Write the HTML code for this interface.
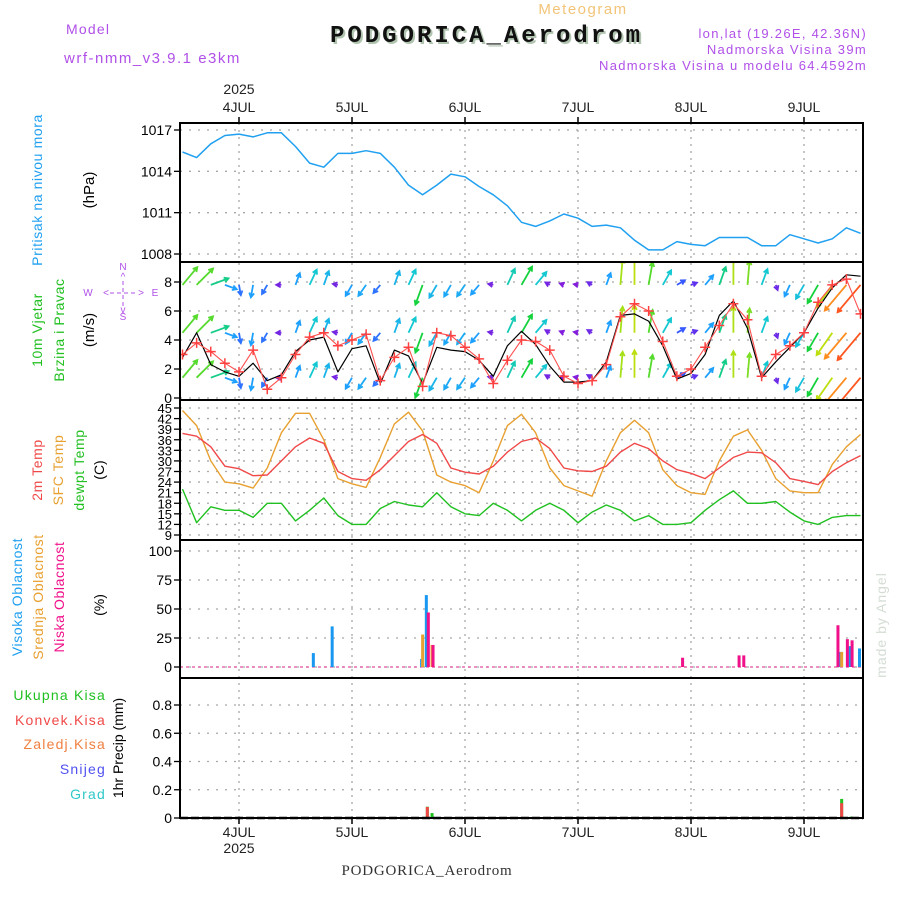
<!DOCTYPE html>
<html><head><meta charset="utf-8"><style>
html,body{margin:0;padding:0;background:#fff;}
svg{display:block;font-family:"Liberation Sans",sans-serif;}
</style></head><body>
<svg id="chart" width="900" height="900" viewBox="0 0 900 900" xmlns="http://www.w3.org/2000/svg">
<defs><clipPath id="windclip"><rect x="180" y="262" width="683" height="138"/></clipPath></defs>
<rect width="900" height="900" fill="#fff"/>
<text x="583" y="14" font-size="15" fill="#f2c478" text-anchor="middle" letter-spacing="1.5">Meteogram</text>
<text x="332" y="44" font-size="24" font-weight="bold" font-family="Liberation Mono, monospace" fill="#b0c4b0" textLength="310">PODGORICA_Aerodrom</text>
<text x="330" y="42" font-size="24" font-weight="bold" font-family="Liberation Mono, monospace" fill="#111" textLength="310">PODGORICA_Aerodrom</text>
<text x="66" y="34" font-size="14" fill="#b050e8" letter-spacing="1.2">Model</text>
<text x="64" y="63" font-size="15" fill="#b050e8" letter-spacing="1.5">wrf-nmm_v3.9.1 e3km</text>
<g font-size="13" fill="#b050e8" text-anchor="end" letter-spacing="1.3">
<text x="867" y="38">lon,lat (19.26E, 42.36N)</text>
<text x="867" y="54">Nadmorska Visina 39m</text>
<text x="867" y="70">Nadmorska Visina u modelu 64.4592m</text>
</g>
<text x="427" y="875" font-size="15" font-family="Liberation Serif, serif" fill="#333" text-anchor="middle" letter-spacing="0.8">PODGORICA_Aerodrom</text>
<text transform="translate(886,625) rotate(-90)" font-size="14" fill="#d4dcd4" text-anchor="middle" letter-spacing="1">made by Angel</text>

<text transform="translate(42,190) rotate(-90)" font-size="14" fill="#20a0f0" text-anchor="middle" letter-spacing="0.6">Pritisak na nivou mora</text>
<text transform="translate(94,190) rotate(-90)" font-size="15" fill="#000" text-anchor="middle">(hPa)</text>
<text transform="translate(42,330) rotate(-90)" font-size="14" fill="#20c020" text-anchor="middle" letter-spacing="0.6">10m Vjetar</text>
<text transform="translate(64,330) rotate(-90)" font-size="14" fill="#20c020" text-anchor="middle" letter-spacing="0.6">Brzina i Pravac</text>
<text transform="translate(94,330) rotate(-90)" font-size="15" fill="#000" text-anchor="middle">(m/s)</text>
<g fill="#b050e8" font-size="10" text-anchor="middle">
<text x="123" y="270">N</text><text x="123" y="280">^</text>
<text x="88" y="296">W</text><text x="155" y="296">E</text>
<text x="106" y="296">&lt;</text><text x="141" y="296">&gt;</text>
<text x="123" y="313">v</text><text x="123" y="320">S</text>
<line x1="110" y1="293" x2="137" y2="293" stroke="#b050e8" stroke-dasharray="4,3"/>
<line x1="123" y1="281" x2="123" y2="306" stroke="#b050e8" stroke-dasharray="4,3"/>
</g>
<text transform="translate(42,470) rotate(-90)" font-size="14" fill="#f04848" text-anchor="middle" letter-spacing="0.6">2m Temp</text>
<text transform="translate(63,470) rotate(-90)" font-size="14" fill="#e8a030" text-anchor="middle" letter-spacing="0.6">SFC Temp</text>
<text transform="translate(84,470) rotate(-90)" font-size="14" fill="#20c020" text-anchor="middle" letter-spacing="0.6">dewpt Temp</text>
<text transform="translate(104,470) rotate(-90)" font-size="14" fill="#000" text-anchor="middle">(C)</text>
<text transform="translate(22,597) rotate(-90)" font-size="14" fill="#20a0f0" text-anchor="middle" letter-spacing="0.6">Visoka Oblacnost</text>
<text transform="translate(43,597) rotate(-90)" font-size="14" fill="#e8a030" text-anchor="middle" letter-spacing="0.6">Srednja Oblacnost</text>
<text transform="translate(64,597) rotate(-90)" font-size="14" fill="#f0108a" text-anchor="middle" letter-spacing="0.6">Niska Oblacnost</text>
<text transform="translate(104,605) rotate(-90)" font-size="14" fill="#000" text-anchor="middle">(%)</text>
<g font-size="14" text-anchor="end" letter-spacing="1.2">
<text x="106" y="700" fill="#20c020">Ukupna  Kisa</text>
<text x="106" y="725" fill="#f04848">Konvek.Kisa</text>
<text x="106" y="749" fill="#f08040">Zaledj.Kisa</text>
<text x="106" y="774" fill="#5050f0">Snijeg</text>
<text x="106" y="799" fill="#30c8c8">Grad</text>
</g>
<text transform="translate(123,748) rotate(-90)" font-size="14" fill="#000" text-anchor="middle">1hr Precip (mm)</text>

<g id="grid"></g>
<g id="marks"></g>
<g id="frames"></g>
</svg>
<script>
const hours = [-12,-9,-6,-3,0,3,6,9,12,15,18,21,24,27,30,33,36,39,42,45,48,51,54,57,60,63,66,69,72,75,78,81,84,87,90,93,96,99,102,105,108,111,114,117,120,123,126,129,132];
const dayLabels = ["4JUL","5JUL","6JUL","7JUL","8JUL","9JUL"];
const pressure = [1015.4,1015.0,1016.0,1016.6,1016.7,1016.5,1016.8,1016.8,1015.8,1014.6,1014.3,1015.3,1015.3,1015.5,1015.3,1014.3,1013.0,1012.3,1013.0,1013.8,1013.6,1012.9,1012.3,1011.5,1010.3,1010.0,1010.4,1010.9,1010.6,1010.0,1010.1,1009.9,1009.0,1008.3,1008.3,1008.9,1008.7,1008.6,1009.2,1009.2,1009.2,1008.6,1008.6,1009.4,1009.1,1008.8,1009.1,1009.9,1009.5];
const windSpeed = [2.8,4.5,2.3,1.8,1.5,2.4,1.2,1.6,3.2,4.0,4.2,1.8,3.4,3.6,1.0,3.3,2.9,1.0,3.5,3.3,3.2,2.6,1.5,3.6,4.6,3.7,2.2,1.1,1.1,1.2,2.5,5.7,5.8,5.3,3.6,1.3,1.7,3.0,5.7,6.7,4.8,1.4,2.5,3.5,4.5,6.2,7.6,8.5,8.4];
const windGust = [3.0,3.8,3.2,2.4,1.8,3.3,0.6,1.4,3.0,4.2,4.5,3.6,4.0,4.4,1.2,2.8,3.5,0.8,4.5,4.3,3.5,2.7,1.0,2.6,4.0,3.9,3.3,1.5,1.0,1.2,2.3,5.6,6.5,6.0,3.9,1.5,2.0,3.5,5.0,6.5,5.4,1.5,3.0,3.6,4.5,6.6,7.8,8.2,5.8];
const windDir = [220,225,250,290,350,10,30,90,200,205,200,100,30,35,40,200,205,20,30,30,35,40,100,205,210,220,120,110,100,120,200,185,180,190,210,240,250,220,200,180,185,200,340,25,30,30,35,40,40];
const vecSpeed = [5.5,5.5,4.5,3,2.5,3,2.5,1.2,3,4,3.5,1.2,3,3.2,2.5,3.5,4,5,3.5,3.2,3.3,3,1.2,4.2,5,4,1.2,1.0,1.0,1.3,3,6.2,6.5,5.5,4,2.2,1.5,3,4.5,6.3,5.8,4,1.3,3,3.8,5,6.5,8,8.5];
const windRows = [7.8,4.5,1.4];
const temp2m = [37.8,37.0,34,28.5,27.8,25.8,26,30,34,36.5,35,27,25,24.5,27.5,31.5,35.5,37.5,35,28,26.8,26.3,28.5,32.5,35.5,36.5,33.5,28,27.2,27.0,28.5,32.5,35,33.5,30,27.5,26.5,25,28,31,32.5,32.3,29.5,25,24.2,23.3,27,29.5,31.5];
const tempSfc = [44.3,40,30,24,23.5,22.3,28,38,43.5,43.5,36,25,23.5,22.5,31,40.5,43.8,38.5,26,24,23,21,30,40,43.2,38,28,23,21.5,20,30,38,41.5,38,27.5,23,21,20.5,30,37,38.8,33,25,21.5,21,21,29,34,37.5];
const dewpt = [22,12.5,17,16,16,14,18,18,13,16,19.5,14.5,12,12,16.5,18.5,17.5,17,21,17,15,14.5,18,16,13,16,18,16,12.5,15.5,17.5,16,13,14.5,12,12,12.5,16,19,21.5,18,18,18.5,15.5,13,12,14,14.5,14.5];
const highCloudHours = [16,20,39,40,128,130,132];
const highCloud = [12,35,7,62,13,18,16];
const midCloudHours = [39,41,128];
const midCloud = [28,19,13];
const lowCloudHours = [40,41,94,106,107,127,129,130];
const lowCloud = [47,19,8,10,10,36,24,23];
const totPrecipHours = [40,41,128,130];
const totPrecip = [0.08,0.035,0.135,0.01];
const convPrecipHours = [40,128];
const convPrecip = [0.078,0.105];
const pTicks = [1008,1011,1014,1017];
const wTicks = [0,2,4,6,8];
const tTicks = [9,12,15,18,21,24,27,30,33,36,39,42,45];
const cTicks = [0,25,50,75,100];
const rTicks = [0,0.2,0.4,0.6,0.8];

const X0 = 180, X1 = 863;
const xs = h => 239 + h * 113 / 24;
const yP = p => 254 - (p - 1008) * 124 / 9;
const yW = v => 398 - v * 14.5;
const yT = t => 408 + (45 - t) * 127 / 36;
const yC = c => 667 - c * 1.16;
const yR = r => 818 - r * 141.25;
const panels = [[123,262],[262,400],[400,540],[540,678],[678,818]];

const NS = "http://www.w3.org/2000/svg";
function mk(tag, attrs, parent) {
  const e = document.createElementNS(NS, tag);
  for (const k in attrs) e.setAttribute(k, attrs[k]);
  parent.appendChild(e);
  return e;
}
const grid = document.getElementById('grid');
const marks = document.getElementById('marks');
const frames = document.getElementById('frames');

dayLabels.forEach((d, i) => {
  const x = xs(i * 24);
  const l = mk('line', {x1:x, y1:123, x2:x, y2:818, stroke:'#a8a8a8', 'stroke-width':1.3, 'stroke-dasharray':'2,5'}, grid);
  
  
  const t = mk('text', {x:x, y:112, 'font-size':14, 'text-anchor':'middle', fill:'#222'}, grid);
  t.textContent = d;
  
  
  const b = mk('text', {x:x, y:837, 'font-size':14, 'text-anchor':'middle', fill:'#222'}, grid);
  b.textContent = d;
  
  
  mk('line', {x1:x, y1:117, x2:x, y2:123, stroke:'#000', 'stroke-width':1.5}, grid);
  mk('line', {x1:x, y1:818, x2:x, y2:824, stroke:'#000', 'stroke-width':1.5}, grid);
});
[[94,'top-year-label'],[853,'bottom-year-label']].forEach(([y,n]) => {
  const t = mk('text', {x:xs(0), y:y, 'font-size':14, 'text-anchor':'middle', fill:'#222'}, grid);
  t.textContent = '2025';
  
  
});

function yAxis(ticks, fy, name, fs) {
  ticks.forEach(v => {
    const y = fy(v);
    const g = mk('line', {x1:X0, y1:y, x2:X1, y2:y, stroke:'#a8a8a8', 'stroke-width':1.3, 'stroke-dasharray':'2,7'}, grid);
    
    
    mk('line', {x1:X0-6, y1:y, x2:X0, y2:y, stroke:'#000', 'stroke-width':1.3}, grid);
    const t = mk('text', {x:X0-8, y:y+5, 'font-size':fs, 'text-anchor':'end', fill:'#000'}, grid);
    t.textContent = String(v);
    
    
  });
}
yAxis(pTicks, yP, 'pressure', 14);
yAxis(wTicks, yW, 'wind', 14);
yAxis(tTicks, yT, 'temp', 13);
yAxis(cTicks, yC, 'cloud', 14);
yAxis(rTicks, yR, 'precip', 14);

function line(xsArr, ys, color, name, w, parent) {
  const d = xsArr.map((h, i) => (i ? 'L' : 'M') + xs(h).toFixed(1) + ',' + ys[i].toFixed(1)).join('');
  const p = mk('path', {d:d, fill:'none', stroke:color, 'stroke-width':w || 1.3, 'stroke-linejoin':'round'}, parent || marks);
  
  
}
line(hours, pressure.map(yP), '#20a0f0', 'pressure-line', 1.5);

const windG = mk('g', {'clip-path':'url(#windclip)'}, marks);
function spdColor(s) {
  const stops = [[1,[130,30,220]],[2,[60,70,255]],[3,[30,160,255]],[4,[20,200,210]],[5,[20,210,60]],[6,[150,225,30]],[7,[230,220,0]],[8,[255,140,30]],[9,[255,30,30]]];
  if (s <= stops[0][0]) return 'rgb(' + stops[0][1].join(',') + ')';
  for (let i = 1; i < stops.length; i++) {
    if (s <= stops[i][0]) {
      const a = stops[i-1], b = stops[i], f = (s - a[0]) / (b[0] - a[0]);
      return 'rgb(' + a[1].map((c, k) => Math.round(c + (b[1][k] - c) * f)).join(',') + ')';
    }
  }
  return 'rgb(255,30,30)';
}
windRows.forEach(rowV => {
  const by = yW(rowV);
  hours.forEach((h, i) => {
    const to = (windDir[i] + 180) * Math.PI / 180;
    const len = vecSpeed[i] * 4.2;
    const x1 = xs(h), y1 = by;
    const x2 = x1 + Math.sin(to) * len, y2 = y1 - Math.cos(to) * len;
    const col = spdColor(vecSpeed[i]);
    const ang = Math.atan2(y2 - y1, x2 - x1);
    const hl = 5;
    const d = 'M' + x1.toFixed(1) + ',' + y1.toFixed(1) + 'L' + x2.toFixed(1) + ',' + y2.toFixed(1) +
      'M' + (x2 - hl * Math.cos(ang - 0.5)).toFixed(1) + ',' + (y2 - hl * Math.sin(ang - 0.5)).toFixed(1) + 'L' + x2.toFixed(1) + ',' + y2.toFixed(1) +
      'L' + (x2 - hl * Math.cos(ang + 0.5)).toFixed(1) + ',' + (y2 - hl * Math.sin(ang + 0.5)).toFixed(1);
    const a = mk('path', {d:d, stroke:col, 'stroke-width':1.8, fill:'none'}, windG);
    
    
  });
});
line(hours, windSpeed.map(yW), '#000', 'wind-speed-line', 1.2, windG);
line(hours, windGust.map(yW), '#ff5050', 'wind-gust-line', 1.1, windG);
hours.forEach((h, i) => {
  const x = xs(h), y = yW(windGust[i]);
  const m = mk('path', {d:'M' + (x-5) + ',' + y + 'L' + (x+5) + ',' + y + 'M' + x + ',' + (y-5) + 'L' + x + ',' + (y+5), stroke:'#ff4040', 'stroke-width':1.5}, windG);
  
  
});

line(hours, tempSfc.map(yT), '#e8a030', 'sfc-temp-line', 1.4);
line(hours, temp2m.map(yT), '#f04848', 't2m-line', 1.4);
line(hours, dewpt.map(yT), '#20c020', 'dewpoint-line', 1.4);

const z = mk('line', {x1:X0, y1:yC(0), x2:X1, y2:yC(0), stroke:'#e050a0', 'stroke-width':1.2, 'stroke-dasharray':'3,3'}, marks);


function bars(hs, vs, fy, color, off, name) {
  hs.forEach((h, i) => {
    const x = xs(h) + off, y = fy(vs[i]), y0 = fy(0);
    const r = mk('rect', {x:x - 1.5, y:y, width:3, height:y0 - y, fill:color}, marks);
    
    
  });
}
bars(highCloudHours, highCloud, yC, '#1898f0', -1, 'high-cloud-bar');
bars(midCloudHours, midCloud, yC, '#e8a030', 0, 'mid-cloud-bar');
bars(lowCloudHours, lowCloud, yC, '#f0108a', 1, 'low-cloud-bar');
bars(totPrecipHours, totPrecip, yR, '#20c020', 0, 'total-precip-bar');
bars(convPrecipHours, convPrecip, yR, '#f04848', 0, 'convective-precip-bar');

panels.forEach(([t, b], i) => {
  const r = mk('rect', {x:X0, y:t, width:X1 - X0, height:b - t, fill:'none', stroke:'#000', 'stroke-width':2}, frames);
  
  
});
mk('line', {x1:X0, y1:818, x2:X1, y2:818, stroke:'#000', 'stroke-width':2.5, 'stroke-dasharray':'8,3'}, frames);
</script>
</body></html>
